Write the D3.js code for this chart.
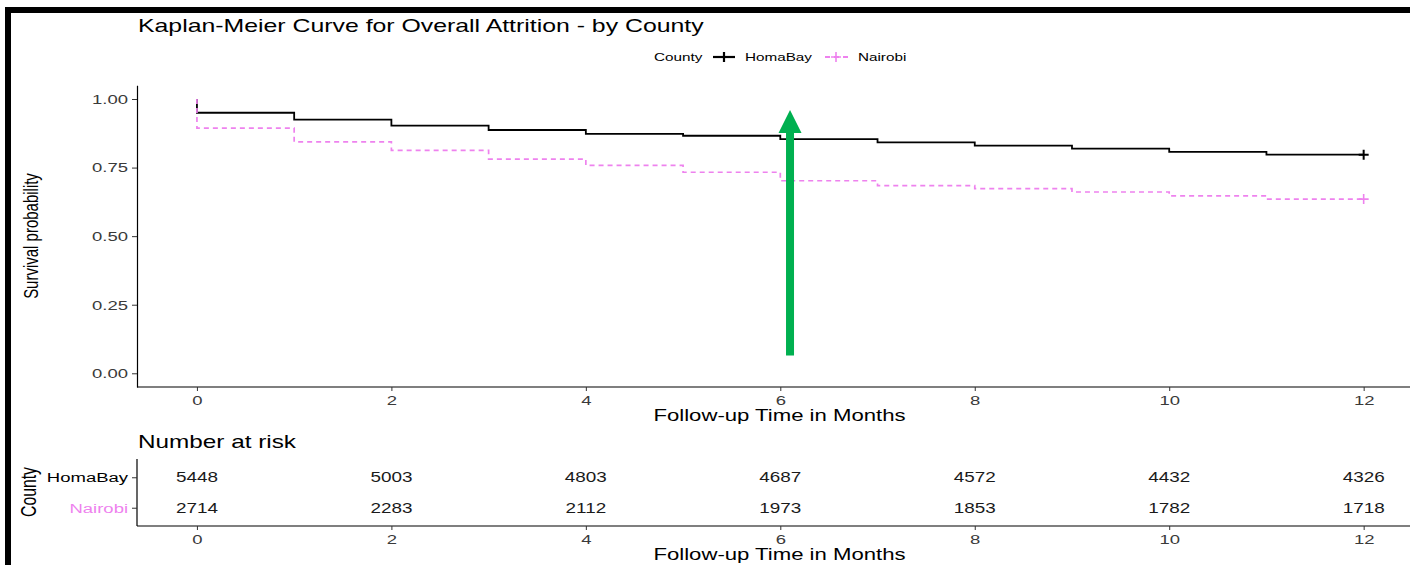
<!DOCTYPE html>
<html>
<head>
<meta charset="utf-8">
<script src="https://cdn.jsdelivr.net/npm/d3@7"></script>
<style>
  body { margin: 0; background: #fff; }
  svg { display: block; }
  text { font-family: "Liberation Sans", Arial, Helvetica, sans-serif; }
</style>
</head>
<body>
<svg id="chart" width="1410" height="565"></svg>
<script>
// ---- data -------------------------------------------------------------
const months = [0, 1, 2, 3, 4, 5, 6, 7, 8, 9, 10, 11];
const homaBaySurvival = [0.950, 0.925, 0.903, 0.887, 0.873, 0.866, 0.854, 0.842, 0.830, 0.819, 0.807, 0.797];
const nairobiSurvival = [0.894, 0.844, 0.813, 0.781, 0.758, 0.733, 0.702, 0.684, 0.673, 0.661, 0.647, 0.635];
const followUpEnd = 12;

const counties = ["HomaBay", "Nairobi"];
const riskTimes = [0, 2, 4, 6, 8, 10, 12];
const homaBayAtRisk = [5448, 5003, 4803, 4687, 4572, 4432, 4326];
const nairobiAtRisk = [2714, 2283, 2112, 1973, 1853, 1782, 1718];

const xTicks = [0, 2, 4, 6, 8, 10, 12];
const yTicks = [0, 0.25, 0.50, 0.75, 1.00];

// highlight arrow (month, survival from -> to)
const arrowMonth = 6.1, arrowFrom = 0.065, arrowTo = 0.96;

// ---- styling ----------------------------------------------------------
const SX = 1.35;                 // horizontal text stretch
const colHoma = "#000000";
const colNairobi = "violet";
const tickCol = "#3a3a3a";

const svg = d3.select("#chart");
const W = 1410;

// frame strokes along top and left edge
svg.append("rect").attr("x", 5).attr("y", 7).attr("width", W - 5).attr("height", 6).attr("fill", "#000");
svg.append("rect").attr("x", 5).attr("y", 7).attr("width", 6).attr("height", 565 - 7).attr("fill", "#000");

function stext(parent, x, y, str, size, opts = {}) {
  const t = parent.append("text")
    .attr("transform", `translate(${x},${y}) scale(${SX},1)` + (opts.rotate ? ` rotate(${opts.rotate})` : ""))
    .attr("font-size", size)
    .attr("fill", opts.fill || "#000")
    .attr("text-anchor", opts.anchor || "start")
    .text(str);
  if (opts.dy) t.attr("dy", opts.dy);
  return t;
}

// ---- scales -----------------------------------------------------------
const panelL = 137;
const x = d3.scaleLinear().domain([-0.6, 12.6]).range([138.6, 1422]);
const y = d3.scaleLinear().domain([-0.05, 1.05]).range([387, 85.3]);

// ---- title & legend ---------------------------------------------------
stext(svg, 138, 31.5, "Kaplan-Meier Curve for Overall Attrition - by County", 18.4);

const lg = svg.append("g");
stext(lg, 654, 61, "County", 11.3, { fill: "#000" });
function plus(g, cx, cy, r, col, w) {
  g.append("path").attr("d", `M${cx - r},${cy}H${cx + r}M${cx},${cy - r}V${cy + r}`)
    .attr("stroke", col).attr("stroke-width", w).attr("fill", "none");
}
lg.append("line").attr("x1", 713).attr("x2", 735).attr("y1", 57).attr("y2", 57)
  .attr("stroke", colHoma).attr("stroke-width", 2.2);
plus(lg, 724, 57, 5, colHoma, 2.2);
stext(lg, 745, 61, "HomaBay", 11.3);
lg.append("line").attr("x1", 825).attr("x2", 848).attr("y1", 57).attr("y2", 57)
  .attr("stroke", colNairobi).attr("stroke-width", 1.8).attr("stroke-dasharray", "5,4");
plus(lg, 836, 57, 5, colNairobi, 1.6);
stext(lg, 858, 61, "Nairobi", 11.3);

// ---- survival panel ---------------------------------------------------
const main = svg.append("g");

const yAxis = d3.axisLeft(y).tickValues(yTicks).tickFormat(d3.format(".2f")).tickSize(5).tickSizeOuter(0);
const yg = main.append("g").attr("transform", `translate(${panelL},0)`).call(yAxis);
yg.select(".domain").attr("stroke", "#000").attr("stroke-width", 1.2);
yg.selectAll(".tick line").attr("stroke", "#333");
yg.selectAll(".tick text").attr("x", -9 / SX).attr("transform", `scale(${SX},1)`)
  .attr("font-size", 13.7).attr("fill", tickCol).attr("font-family", null);

const xAxis = d3.axisBottom(x).tickValues(xTicks).tickSize(4).tickSizeOuter(0);
const xg = main.append("g").attr("transform", "translate(0,387)").call(xAxis);
xg.select(".domain").attr("stroke", "#000").attr("stroke-width", 1.2)
  .attr("d", `M${panelL},0H${x.range()[1]}`);
xg.selectAll(".tick line").attr("stroke", "#333");
xg.selectAll(".tick text").attr("transform", `scale(${SX},1)`).attr("x", 0).attr("y", 8)
  .attr("font-size", 13.7).attr("fill", tickCol).attr("font-family", null);

const panelCx = (panelL + x.range()[1]) / 2;
stext(main, panelCx, 421, "Follow-up Time in Months", 16.4, { anchor: "middle" });
stext(main, 31, 236, "Survival probability", 15, { anchor: "middle", rotate: -90, dy: "0.35em" });

function stepData(surv) {
  const pts = [{ t: 0, s: 1 }];
  months.forEach((m, i) => pts.push({ t: m, s: surv[i] }));
  pts.push({ t: followUpEnd, s: surv[surv.length - 1] });
  return pts;
}
const line = d3.line().x(d => x(d.t)).y(d => y(d.s)).curve(d3.curveStepAfter);

main.append("path").datum(stepData(homaBaySurvival)).attr("d", line)
  .attr("fill", "none").attr("stroke", colHoma).attr("stroke-width", 1.8);
main.append("path").datum(stepData(nairobiSurvival)).attr("d", line)
  .attr("fill", "none").attr("stroke", colNairobi).attr("stroke-width", 1.7)
  .attr("stroke-dasharray", "5,4");

// censoring marks at end of follow-up
plus(main, x(followUpEnd), y(homaBaySurvival[homaBaySurvival.length - 1]), 5, colHoma, 2);
plus(main, x(followUpEnd), y(nairobiSurvival[nairobiSurvival.length - 1]), 5, colNairobi, 1.6);

// highlight arrow
{
  const ax = x(arrowMonth), yb = y(arrowFrom), yt = y(arrowTo);
  const sw = 4, hw = 11.5, hl = 23;
  main.append("path")
    .attr("d", `M${ax - sw},${yb}V${yt + hl}H${ax - hw}L${ax},${yt}L${ax + hw},${yt + hl}H${ax + sw}V${yb}Z`)
    .attr("fill", "#00b050");
}

// ---- number-at-risk table --------------------------------------------
const tbl = svg.append("g");
const tTop = 459, tBot = 526;
const yr = d3.scalePoint().domain(counties).range([tTop, tBot]).padding(0.6);

stext(tbl, 138, 448, "Number at risk", 18);

const ryAxis = d3.axisLeft(yr).tickSize(5).tickSizeOuter(0);
const ryg = tbl.append("g").attr("transform", `translate(${panelL},0)`).call(ryAxis);
ryg.select(".domain").attr("stroke", "#000").attr("stroke-width", 1.2).attr("d", `M0,${tTop}V${tBot}`);
ryg.selectAll(".tick line").attr("stroke", "#333");
ryg.selectAll(".tick text").attr("x", -9 / SX).attr("transform", `scale(${SX},1)`)
  .attr("font-size", 13.7).attr("font-family", null)
  .attr("fill", d => d === "Nairobi" ? colNairobi : "#000");

const rxg = tbl.append("g").attr("transform", `translate(0,${tBot})`).call(xAxis);
rxg.select(".domain").attr("stroke", "#000").attr("stroke-width", 1.2)
  .attr("d", `M${panelL},0H${x.range()[1]}`);
rxg.selectAll(".tick line").attr("stroke", "#333");
rxg.selectAll(".tick text").attr("transform", `scale(${SX},1)`).attr("x", 0).attr("y", 8)
  .attr("font-size", 13.7).attr("fill", tickCol).attr("font-family", null);

const riskRows = [
  { county: "HomaBay", values: homaBayAtRisk },
  { county: "Nairobi", values: nairobiAtRisk }
];
riskRows.forEach(r => {
  r.values.forEach((v, i) => {
    stext(tbl, x(riskTimes[i]), yr(r.county), String(v), 14, { anchor: "middle", dy: "0.35em", fill: "#1a1a1a" });
  });
});

stext(tbl, panelCx, 560, "Follow-up Time in Months", 16.4, { anchor: "middle" });
stext(tbl, 29, 492, "County", 15.8, { anchor: "middle", rotate: -90, dy: "0.35em" });
</script>
</body>
</html>
